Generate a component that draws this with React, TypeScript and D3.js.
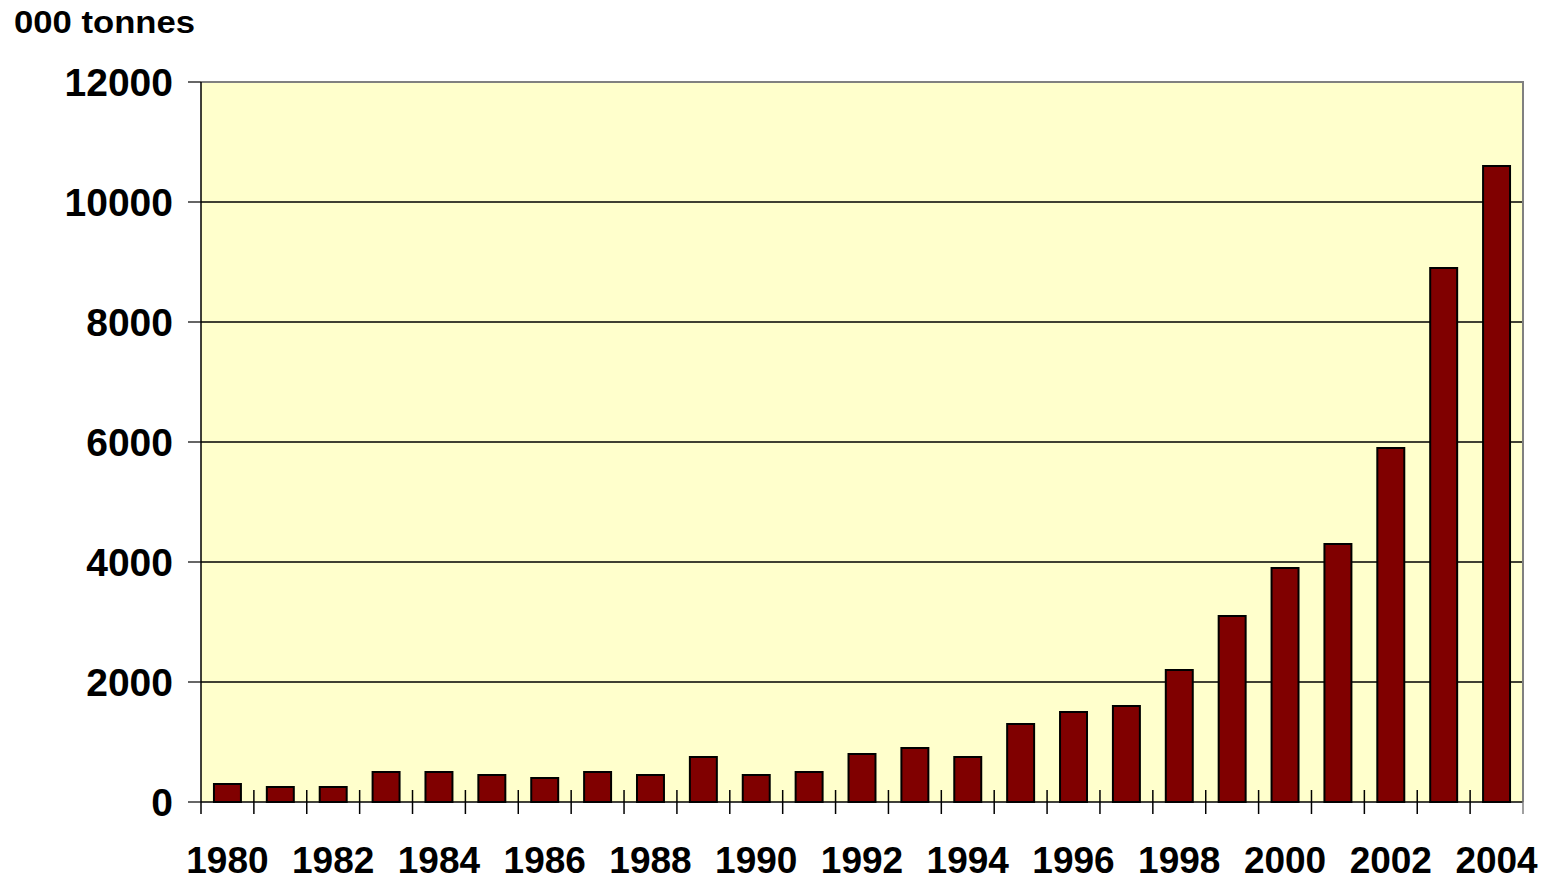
import React, { useRef, useEffect } from "react";
import * as d3 from "d3";

const width = 1550;
const height = 881;
const margin = { top: 82, right: 27, bottom: 79, left: 201 };

const years = [
  "1980", "1981", "1982", "1983", "1984", "1985", "1986", "1987", "1988",
  "1989", "1990", "1991", "1992", "1993", "1994", "1995", "1996", "1997",
  "1998", "1999", "2000", "2001", "2002", "2003", "2004"
];
const tonnes = [
  300, 250, 250, 500, 500, 450, 400, 500, 450, 750, 450, 500, 800, 900, 750,
  1300, 1500, 1600, 2200, 3100, 3900, 4300, 5900, 8900, 10600
];
const yTicks = [0, 2000, 4000, 6000, 8000, 10000, 12000];
const unitLabel = "000 tonnes";

export default function App() {
  const ref = useRef<SVGSVGElement | null>(null);

  useEffect(() => {
    const svg = d3.select(ref.current);
    svg.selectAll("*").remove();

    const x0 = margin.left;
    const x1 = width - margin.right;
    const y0 = height - margin.bottom;
    const y1 = margin.top;

    const x = d3.scaleBand<string>().domain(years).range([x0, x1]);
    const y = d3.scaleLinear().domain([0, 12000]).range([y0, y1]);
    const font = "'Liberation Sans', Arial, Helvetica, sans-serif";

    // plot area
    svg.append("rect")
      .attr("x", x0).attr("y", y1)
      .attr("width", x1 - x0).attr("height", y0 - y1)
      .attr("fill", "#ffffcc");

    // gridlines
    svg.append("g")
      .selectAll("line")
      .data(yTicks.filter((t) => t > 0 && t < 12000))
      .enter()
      .append("line")
      .attr("x1", x0).attr("x2", x1)
      .attr("y1", (d) => y(d)).attr("y2", (d) => y(d))
      .attr("stroke", "#000")
      .attr("stroke-width", 1.4);

    // grey border top/right
    svg.append("path")
      .attr("d", `M${x0},${y1}H${x1}V${y0}`)
      .attr("fill", "none")
      .attr("stroke", "#808080")
      .attr("stroke-width", 2);

    // bars
    const bw = x.bandwidth() * 0.51;
    svg.append("g")
      .selectAll("rect")
      .data(tonnes)
      .enter()
      .append("rect")
      .attr("x", (_, i) => x(years[i])! + (x.bandwidth() - bw) / 2)
      .attr("y", (d) => y(d))
      .attr("width", bw)
      .attr("height", (d) => y0 - y(d))
      .attr("fill", "#800000")
      .attr("stroke", "#000")
      .attr("stroke-width", 2);

    // axes lines
    svg.append("line")
      .attr("x1", x0).attr("x2", x0).attr("y1", y1).attr("y2", y0)
      .attr("stroke", "#000").attr("stroke-width", 1.5);
    svg.append("line")
      .attr("x1", x0).attr("x2", x1).attr("y1", y0).attr("y2", y0)
      .attr("stroke", "#000").attr("stroke-width", 1.5);

    // y ticks + labels
    const yg = svg.append("g");
    yTicks.forEach((t) => {
      yg.append("line")
        .attr("x1", x0 - 13).attr("x2", x0)
        .attr("y1", y(t)).attr("y2", y(t))
        .attr("stroke", "#000").attr("stroke-width", 1.2);
      yg.append("text")
        .attr("x", 173)
        .attr("y", y(t))
        .attr("dy", "0.36em")
        .attr("text-anchor", "end")
        .attr("font-family", font)
        .attr("font-weight", "bold")
        .attr("font-size", 39)
        .text(String(t));
    });

    // x ticks (category boundaries)
    const bounds = years.map((yr) => x(yr)!).concat([x1]);
    svg.append("g")
      .selectAll("line")
      .data(bounds)
      .enter()
      .append("line")
      .attr("x1", (d) => d).attr("x2", (d) => d)
      .attr("y1", (_, i) => (i === 0 ? y0 : y0 - 12))
      .attr("y2", y0 + 12)
      .attr("stroke", (_, i) => (i === bounds.length - 1 ? "#808080" : "#000"))
      .attr("stroke-width", 1.5);

    // x labels, every other year
    svg.append("g")
      .selectAll("text")
      .data(years.filter((_, i) => i % 2 === 0))
      .enter()
      .append("text")
      .attr("x", (d) => x(d)! + x.bandwidth() / 2)
      .attr("y", 873)
      .attr("text-anchor", "middle")
      .attr("font-family", font)
      .attr("font-weight", "bold")
      .attr("font-size", 37)
      .text((d) => d);

    // unit label
    svg.append("text")
      .attr("x", 14)
      .attr("y", 33)
      .attr("font-family", font)
      .attr("font-weight", "bold")
      .attr("font-size", 32)
      .attr("textLength", 181)
      .attr("lengthAdjust", "spacingAndGlyphs")
      .text(unitLabel);
  }, []);

  return (
    <svg
      ref={ref}
      width={width}
      height={height}
      style={{ position: "absolute", left: 0, top: 0, background: "#fff" }}
    />
  );
}
